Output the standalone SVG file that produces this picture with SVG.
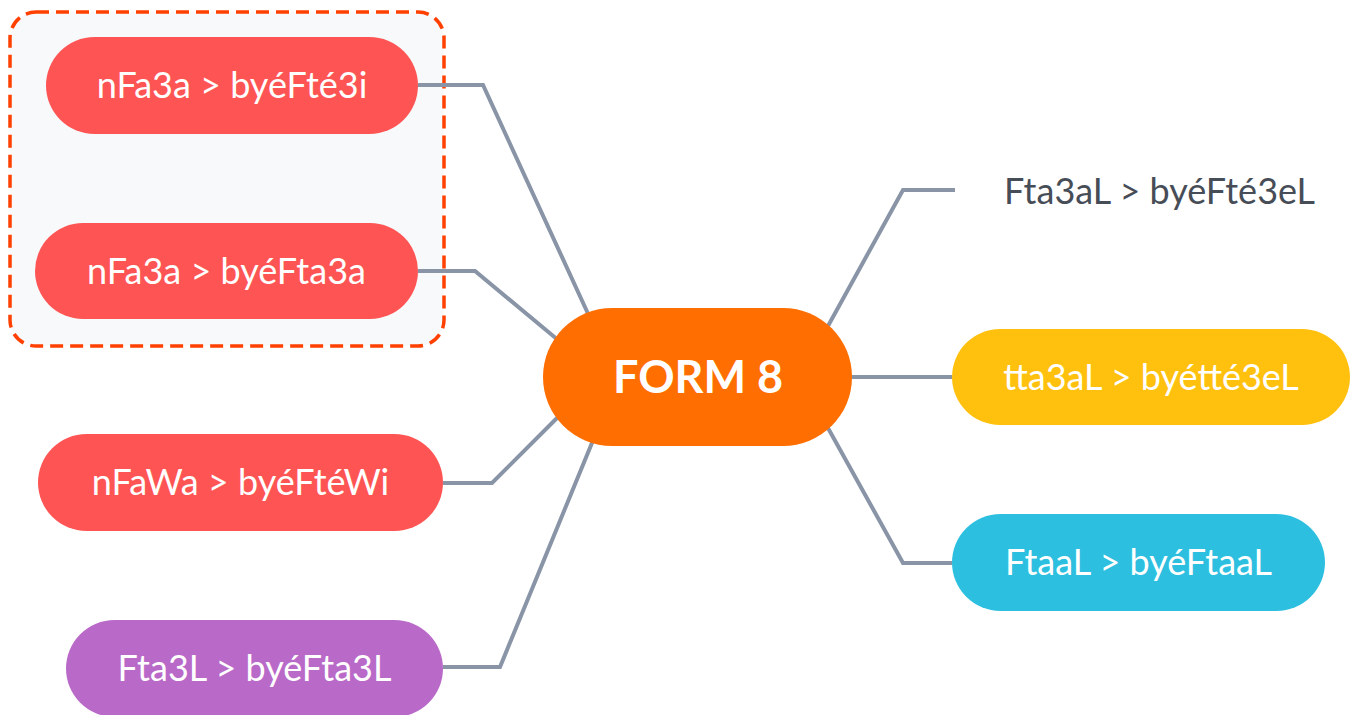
<svg xmlns="http://www.w3.org/2000/svg" width="1354" height="715" viewBox="0 0 1354 715">
<style>
.lbl{font-family:Lato,"Open Sans","Liberation Sans",sans-serif;font-size:36px;fill:#ffffff;text-anchor:middle}
.dark{fill:#474d57}
.center{font-family:Lato,"Open Sans","Liberation Sans",sans-serif;font-size:45px;font-weight:bold;fill:#ffffff;text-anchor:middle}
.conn{fill:none;stroke:#8995a7;stroke-width:4;stroke-linejoin:miter}
.red{fill:#ff5454}
</style>
<rect x="10" y="12" width="434" height="334" rx="26" fill="#f7f9fb" stroke="#ff4000" stroke-width="3.5" stroke-dasharray="13,7"/>
<g id="connectors">
<path class="conn" d="M418,85 H483 L590,318"/>
<path class="conn" d="M418,271 H475 L558,340"/>
<path class="conn" d="M443,483 H492 L560,415"/>
<path class="conn" d="M443,667 H500 L594,438"/>
<path class="conn" d="M828,326 L903,190 H955"/>
<path class="conn" d="M852,377 H952"/>
<path class="conn" d="M828,428 L903,563 H952"/>
</g>
<g id="n1"><rect class="red" x="46" y="37" width="372" height="97" rx="48.5"/><text class="lbl" x="232" y="98">nFa3a &gt; byéFté3i</text></g>
<g id="n2"><rect class="red" x="35" y="223" width="383" height="96" rx="48"/><text class="lbl" x="226.5" y="284">nFa3a &gt; byéFta3a</text></g>
<g id="n3"><rect class="red" x="38" y="434" width="405" height="97" rx="48.5"/><text class="lbl" x="240.5" y="495">nFaWa &gt; byéFtéWi</text></g>
<g id="n4"><rect x="66" y="620" width="377" height="97" rx="48.5" fill="#b96ac8"/><text class="lbl" x="254.5" y="681">Fta3L &gt; byéFta3L</text></g>
<g id="center"><rect x="543" y="308" width="309" height="138" rx="69" fill="#ff6e00"/><text class="center" x="698" y="393">FORM 8</text></g>
<g id="n5"><text class="lbl dark" x="1159.5" y="204">Fta3aL &gt; byéFté3eL</text></g>
<g id="n6"><rect x="952" y="329" width="398" height="96" rx="48" fill="#ffc10e"/><text class="lbl" x="1151" y="390">tta3aL &gt; byétté3eL</text></g>
<g id="n7"><rect x="952" y="514" width="373" height="97" rx="48.5" fill="#2dbfe0"/><text class="lbl" x="1138.5" y="575">FtaaL &gt; byéFtaaL</text></g>
</svg>
